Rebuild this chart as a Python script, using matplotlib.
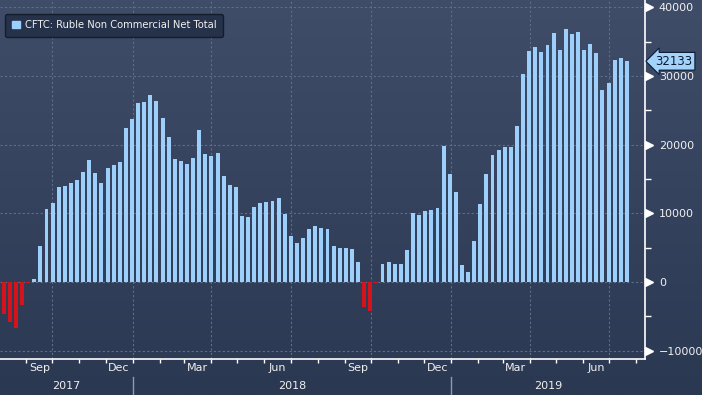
import matplotlib.pyplot as plt
import matplotlib.transforms as mtransforms
from matplotlib.colors import LinearSegmentedColormap
import numpy as np
import pandas as pd

# weekly CFTC figures (report Fridays)
weeks = pd.date_range("2017-08-04", periods=103, freq="7D")
net_total = [
    -4600, -5800, -6700, -3350, -200,
    440, 5200, 10600, 11500, 13800, 14000, 14400, 14800, 16000, 17800,
    15900, 14400, 16600, 17000, 17500, 22400, 23700, 26100, 26200, 27200,
    26300, 23900, 21100, 17900, 17600, 17200, 18000, 22100, 18600, 18300,
    18800, 15400, 14100, 13800, 9600, 9500, 10900, 11500, 11600, 11800,
    12200, 9900, 6700, 5700, 6400, 7700, 8200, 7900, 7700, 5200,
    4900, 5000,
    4800, 2900, -3600, -4200, -150,
    2600, 2900, 2600, 2600, 4700, 10000, 9750, 10300, 10500, 10800,
    19800, 15700, 13100, 2500, 1500, 6000, 11400, 15700, 18500, 19200,
    19700, 19700, 22700, 30300, 33600, 34200, 33500, 34500, 36200, 33800,
    36800, 36100, 36400, 33800, 34600, 33300, 27900, 29000, 32300, 32600,
    32133,
]
series_name = "CFTC: Ruble Non Commercial Net Total"
month_labels = ["Sep", "Dec", "Mar", "Jun", "Sep", "Dec", "Mar", "Jun"]
month_label_dates = pd.to_datetime([
    "2017-09-16", "2017-12-16", "2018-03-16", "2018-06-16",
    "2018-09-16", "2018-12-16", "2019-03-16", "2019-06-16",
])
year_labels = ["2017", "2018", "2019"]
y_major = [-10000, 0, 10000, 20000, 30000, 40000]
y_minor = [-5000, 5000, 15000, 25000, 35000]

x_start = pd.Timestamp("2017-08-02")
x_end = pd.Timestamp("2019-08-11")

pos_color = "#9dcffb"
neg_color = "#d4141a"
text_color = "#f0f0f0"
grid_color = "#5d6e8a"

plt.rcParams["font.family"] = "DejaVu Sans"

fig = plt.figure(figsize=(7.02, 3.95), dpi=100)

# gradient background over the whole figure
bg = fig.add_axes([0, 0, 1, 1], zorder=-1)
cmap = LinearSegmentedColormap.from_list("bg", ["#2a3852", "#3f4d69"])
bg.imshow(np.linspace(0, 1, 256).reshape(-1, 1), aspect="auto", cmap=cmap,
          origin="lower", extent=[0, 1, 0, 1])
bg.axis("off")

ax = fig.add_axes([0, 36 / 395, 645 / 702, 359 / 395])
ax.set_facecolor("none")

colors = [pos_color if v >= 0 else neg_color for v in net_total]
ax.bar(weeks, net_total, width=4.5, align="edge", color=colors,
       label=series_name, zorder=3)

ax.set_xlim(x_start, x_end)
ax.set_ylim(-11200, 41050)

# grid
ax.set_yticks(y_major)
ax.set_yticks(y_minor, minor=True)
ax.yaxis.grid(True, which="major", ls=(0, (2, 2)), color=grid_color, lw=0.8)
quarters = pd.date_range("2017-10-01", "2019-07-01", freq="QS-JAN")
for q in quarters:
    ax.axvline(q, ls=(0, (2, 2)), color=grid_color, lw=0.8, zorder=1)

# y axis on the right with arrow markers
ax.yaxis.tick_right()
ax.tick_params(axis="y", which="major", length=0, pad=10, labelsize=8,
               labelcolor=text_color)
ax.tick_params(axis="y", which="minor", length=4, width=1, color="white",
               direction="out")
ytrans = mtransforms.blended_transform_factory(ax.transAxes, ax.transData)
mtrans = mtransforms.offset_copy(ytrans, fig=fig, x=4, y=0, units="dots")
ax.plot([1] * len(y_major), y_major, ls="", marker=">", ms=5.5, color="white",
        transform=mtrans, clip_on=False, zorder=5)

# x axis: month ticks, labels mid-month
months = pd.date_range("2017-09-01", "2019-08-01", freq="MS")
ax.set_xticks(months)
ax.set_xticklabels([])
ax.set_xticks(month_label_dates, minor=True)
ax.set_xticklabels(month_labels, minor=True)
ax.tick_params(axis="x", which="major", length=3, width=1, color="white",
               direction="out")
ax.tick_params(axis="x", which="minor", length=0, pad=3, labelsize=8,
               labelcolor=text_color)

for side in ["top", "left"]:
    ax.spines[side].set_visible(False)
for side in ["bottom", "right"]:
    ax.spines[side].set_color("white")
    ax.spines[side].set_linewidth(1.2)

# years and separators
xtrans = mtransforms.blended_transform_factory(ax.transData, ax.transAxes)
year_bounds = [x_start, pd.Timestamp("2018-01-01"), pd.Timestamp("2019-01-01"), x_end]
for i, yl in enumerate(year_labels):
    mid = year_bounds[i] + (year_bounds[i + 1] - year_bounds[i]) / 2
    ax.text(mid, -0.075, yl, transform=xtrans, ha="center", va="center",
            fontsize=8, color=text_color)
for b in year_bounds[1:3]:
    ax.plot([b, b], [-0.05, -0.11], color="#8f9ab0", lw=1, transform=xtrans,
            clip_on=False)

# last value tag
ax.annotate(f"{net_total[-1]}", xy=(1, net_total[-1]), xycoords=ytrans,
            xytext=(7.5, 0), textcoords="offset points", ha="left", va="center",
            fontsize=8.5, color="#0c1a30",
            bbox=dict(boxstyle="larrow,pad=0.2", fc="#a3d2fb", ec="#0c1a30",
                      lw=0.8))

leg = ax.legend(loc="upper left", bbox_to_anchor=(0.008, 0.962),
                borderaxespad=0, frameon=True, fancybox=True,
                facecolor="#26324a", edgecolor="#151d2c", framealpha=1,
                handlelength=0.8, handleheight=0.8, handletextpad=0.5,
                fontsize=7.2, borderpad=0.65)
for t in leg.get_texts():
    t.set_color(text_color)
leg.legend_handles[0].set_color(pos_color)

fig.savefig("out.png", dpi=100)
